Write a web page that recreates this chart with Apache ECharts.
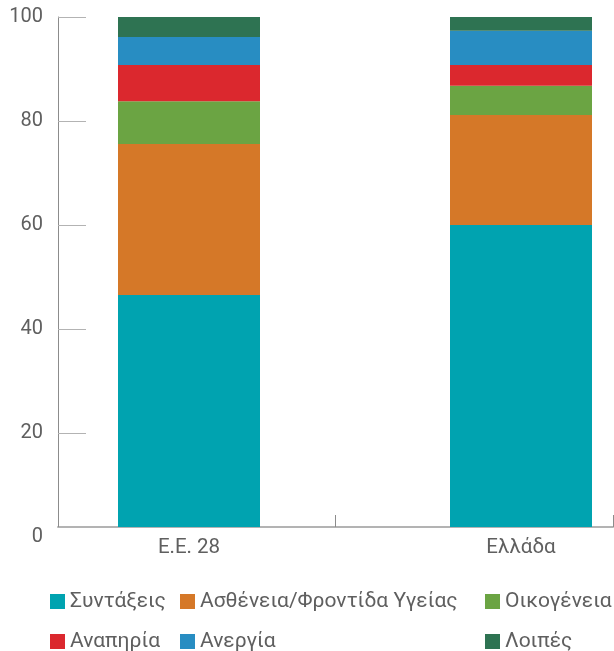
<!DOCTYPE html>
<html>
<head>
<meta charset="utf-8">
<script src="https://cdn.jsdelivr.net/npm/echarts@6/dist/echarts.min.js"></script>
<style>
  html, body { margin: 0; padding: 0; background: #ffffff; }
  #chart { width: 614px; height: 651px; }
</style>
</head>
<body>
<div id="chart"></div>
<script>
// Categories on the horizontal axis
var categories = ['Ε.Ε. 28', 'Ελλάδα'];

// Share of social benefits by function (%), stacked from bottom to top
var syntakseis   = [45.5, 59.2];
var astheneia    = [29.6, 21.6];
var oikogeneia   = [8.4, 5.7];
var anapiria     = [7.1, 4.1];
var anergia      = [5.5, 6.7];
var loipes       = [3.9, 2.7];

var seriesNames = ['Συντάξεις', 'Ασθένεια/Φροντίδα Υγείας', 'Οικογένεια', 'Αναπηρία', 'Ανεργία', 'Λοιπές'];
var seriesData = [syntakseis, astheneia, oikogeneia, anapiria, anergia, loipes];
var colors = ['#00a3b0', '#d57828', '#6ba443', '#db282e', '#288dc2', '#2e7352'];

// Value-axis tick labels
var yTicks = [0, 20, 40, 60, 80, 100];

var FONT = 'Roboto, "Noto Sans", sans-serif';
var TEXT = '#5f5f5f';

var chart = echarts.init(document.getElementById('chart'), null, { renderer: 'canvas' });

var series = seriesNames.map(function (name, i) {
  return {
    name: name,
    type: 'bar',
    stack: 'total',
    xAxisIndex: 0,
    yAxisIndex: 0,
    barWidth: 142,
    itemStyle: { color: colors[i] },
    emphasis: { disabled: true },
    data: seriesData[i]
  };
});

function legendBlock(left, names) {
  return {
    orient: 'vertical',
    left: left,
    top: 591,
    height: 80,
    padding: 0,
    itemGap: 19,
    itemWidth: 15,
    itemHeight: 15,
    icon: 'rect',
    data: names,
    textStyle: { fontFamily: FONT, fontSize: 21, lineHeight: 20, color: TEXT }
  };
}

chart.setOption({
  animation: false,
  color: colors,
  textStyle: { fontFamily: FONT },
  grid: [
    // bars: wide plot so the two bar slots sit where the columns are drawn
    { left: 23, width: 664, top: 17, height: 510, outerBoundsMode: 'none', containLabel: false },
    // value scale and category frame
    { left: 58, width: 555, top: 17, height: 520, outerBoundsMode: 'none', containLabel: false }
  ],
  legend: [
    legendBlock(50, ['Συντάξεις', 'Αναπηρία']),
    legendBlock(180, ['Ασθένεια/Φροντίδα Υγείας', 'Ανεργία']),
    legendBlock(485, ['Οικογένεια', 'Λοιπές'])
  ],
  xAxis: [
    {
      gridIndex: 0,
      type: 'category',
      data: categories,
      axisLine: { show: false },
      axisTick: { show: false },
      axisLabel: { fontFamily: FONT, fontSize: 20.5, color: TEXT, margin: 10 }
    },
    {
      gridIndex: 1,
      type: 'category',
      data: categories,
      offset: -10,
      axisLine: { show: true, lineStyle: { color: '#b3b3b3', width: 2 } },
      axisTick: { show: true, inside: true, length: 12, lineStyle: { color: '#8c8c8c', width: 1 } },
      axisLabel: { show: false }
    }
  ],
  yAxis: [
    {
      gridIndex: 0,
      type: 'value',
      min: 0,
      max: 100,
      offset: -35,
      axisLine: { show: true, lineStyle: { color: '#8c8c8c', width: 1 } },
      axisTick: { show: false },
      axisLabel: { show: false },
      splitLine: { show: false }
    },
    {
      gridIndex: 1,
      type: 'value',
      min: yTicks[0],
      max: yTicks[yTicks.length - 1],
      interval: 20,
      axisLine: { show: false },
      axisTick: {
        show: true,
        inside: true,
        length: 28,
        customValues: yTicks.slice(1),
        lineStyle: { color: '#b3b3b3', width: 1 }
      },
      axisLabel: { fontFamily: FONT, fontSize: 20, color: TEXT, margin: 15 },
      splitLine: { show: false }
    }
  ],
  series: series
});
</script>
</body>
</html>
